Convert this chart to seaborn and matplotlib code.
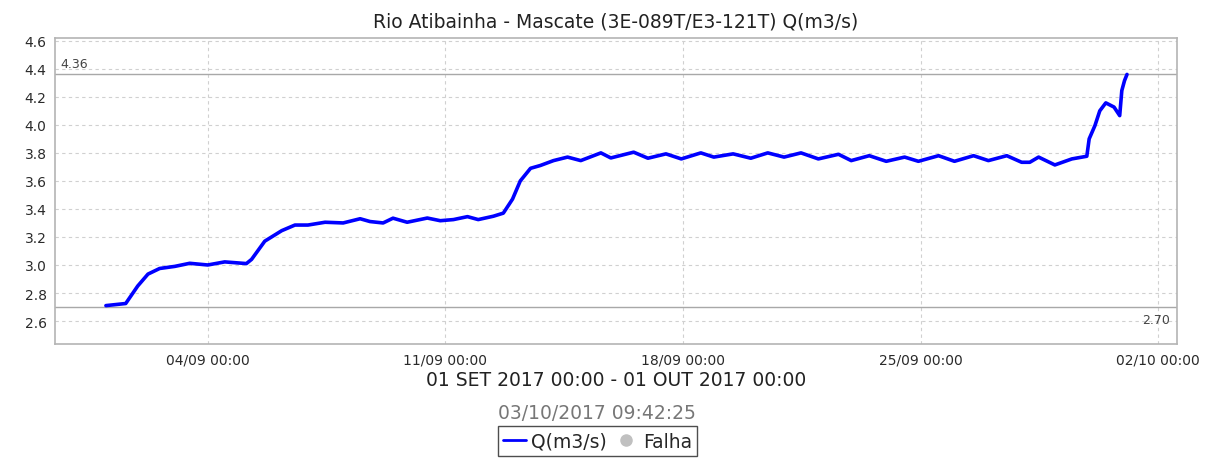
import matplotlib
matplotlib.use("Agg")
import matplotlib.pyplot as plt
import matplotlib.dates as mdates
from matplotlib.lines import Line2D
import pandas as pd
import seaborn as sns

# ---- data ----
times = [
    "2017-09-01 00:00", "2017-09-01 14:00", "2017-09-01 22:30", "2017-09-02 05:45",
    "2017-09-02 14:00", "2017-09-03 00:45", "2017-09-03 11:15", "2017-09-04 00:00",
    "2017-09-04 12:00", "2017-09-05 03:20", "2017-09-05 07:00", "2017-09-05 16:20",
    "2017-09-06 04:20", "2017-09-06 13:40", "2017-09-06 22:50", "2017-09-07 11:00",
    "2017-09-07 23:45", "2017-09-08 11:45", "2017-09-08 18:45", "2017-09-09 04:00",
    "2017-09-09 11:00", "2017-09-09 21:00", "2017-09-10 11:15", "2017-09-10 20:25",
    "2017-09-11 05:45", "2017-09-11 15:40", "2017-09-11 23:15", "2017-09-12 10:00",
    "2017-09-12 17:00", "2017-09-12 23:30", "2017-09-13 05:00", "2017-09-13 12:15",
    "2017-09-13 19:10", "2017-09-14 04:30", "2017-09-14 14:25", "2017-09-14 23:45",
    "2017-09-15 14:00", "2017-09-15 21:00", "2017-09-16 13:10", "2017-09-16 23:15",
    "2017-09-17 12:00", "2017-09-17 22:50", "2017-09-18 12:40", "2017-09-18 21:50",
    "2017-09-19 11:30", "2017-09-20 00:00", "2017-09-20 12:00", "2017-09-20 23:30",
    "2017-09-21 11:30", "2017-09-21 23:45", "2017-09-22 14:00", "2017-09-22 23:00",
    "2017-09-23 11:45", "2017-09-23 23:45", "2017-09-24 12:45", "2017-09-24 22:30",
    "2017-09-25 12:45", "2017-09-26 00:00", "2017-09-26 13:30", "2017-09-27 00:00",
    "2017-09-27 13:00", "2017-09-27 23:30", "2017-09-28 05:15", "2017-09-28 11:30",
    "2017-09-28 23:00", "2017-09-29 11:00", "2017-09-29 21:35", "2017-09-29 23:15",
    "2017-09-30 03:20", "2017-09-30 06:45", "2017-09-30 11:00", "2017-09-30 16:50",
    "2017-09-30 20:50", "2017-09-30 22:20", "2017-10-01 00:15", "2017-10-01 02:00",
]
flow = [
    2.71, 2.725, 2.85, 2.935,
    2.975, 2.99, 3.012, 3.00,
    3.022, 3.01, 3.04, 3.17,
    3.245, 3.285, 3.285, 3.305,
    3.30, 3.33, 3.31, 3.30,
    3.334, 3.305, 3.335, 3.316,
    3.324, 3.345, 3.324, 3.348,
    3.37, 3.47, 3.60, 3.69,
    3.71, 3.745, 3.77, 3.745,
    3.80, 3.764, 3.805, 3.762,
    3.793, 3.757, 3.80, 3.77,
    3.793, 3.762, 3.80, 3.77,
    3.80, 3.757, 3.79, 3.745,
    3.78, 3.74, 3.77, 3.74,
    3.78, 3.74, 3.78, 3.745,
    3.78, 3.733, 3.733, 3.77,
    3.714, 3.757, 3.776, 3.90,
    3.995, 4.10, 4.157, 4.127,
    4.066, 4.245, 4.316, 4.36,
]
max_value = 4.36
min_value = 2.70
tick_dates = ["2017-09-04", "2017-09-11", "2017-09-18", "2017-09-25", "2017-10-02"]
y_ticks = [2.6, 2.8, 3.0, 3.2, 3.4, 3.6, 3.8, 4.0, 4.2, 4.4, 4.6]

title = "Rio Atibainha - Mascate (3E-089T/E3-121T) Q(m3/s)"
period = "01 SET 2017 00:00 - 01 OUT 2017 00:00"
stamp = "03/10/2017 09:42:25"
series_name = "Q(m3/s)"
fail_name = "Falha"

df = pd.DataFrame({"time": pd.to_datetime(times), "value": flow})

# ---- style ----
sns.set_style("white")
plt.rcParams["font.family"] = ["DejaVu Sans"]

fig = plt.figure(figsize=(12.16, 4.6), dpi=100)
ax = fig.add_axes([55 / 1216, 1 - 345 / 460, (1176.5 - 55) / 1216, (345 - 39) / 460])

sns.lineplot(data=df, x="time", y="value", ax=ax, color="#0000ff", linewidth=2.6,
             legend=False, solid_joinstyle="round", solid_capstyle="round")

# reference lines
ax.axhline(max_value, color="#a8a8a8", linewidth=1.0, zorder=1)
ax.axhline(min_value, color="#a8a8a8", linewidth=1.0, zorder=1)
ax.annotate(f"{max_value:.2f}", xy=(0, max_value), xycoords=("axes fraction", "data"),
            xytext=(4, 3), textcoords="offset points", ha="left", va="bottom",
            fontsize=9, color="#444444")
ax.annotate(f"{min_value:.2f}", xy=(1, min_value), xycoords=("axes fraction", "data"),
            xytext=(-5, -4), textcoords="offset points", ha="right", va="top",
            fontsize=9, color="#444444")

# axes limits
x0 = pd.Timestamp("2017-08-30 12:00")
x1 = pd.Timestamp("2017-10-02 13:00")
ax.set_xlim(x0, x1)
ax.set_ylim(2.436, 4.62)

ax.set_xticks(pd.to_datetime(tick_dates))
ax.xaxis.set_major_formatter(mdates.DateFormatter("%d/%m %H:%M"))
ax.set_yticks(y_ticks)
ax.set_yticklabels([f"{v:.1f}" for v in y_ticks])

ax.grid(True, which="major", color="#d0d0d0", linestyle=(0, (3, 3)), linewidth=0.8)
ax.set_axisbelow(True)
for s in ax.spines.values():
    s.set_color("#b4b4b4")
    s.set_linewidth(1.2)
ax.tick_params(axis="both", direction="out", length=3, width=0.8, color="#999999",
               labelsize=10, labelcolor="#2a2a2a", pad=3)

ax.set_xlabel(period, fontsize=13.5, color="#222222", labelpad=3)
ax.set_ylabel("")
ax.set_title(title, fontsize=13.5, color="#222222", pad=8)

fig.text(597 / 1216, 1 - 414 / 460, stamp, ha="center", va="center",
         fontsize=13.5, color="#777777")

handles = [
    Line2D([0], [0], color="#0000ff", linewidth=2),
    Line2D([0], [0], color="none", marker="o", markersize=8,
           markerfacecolor="#c0c0c0", markeredgecolor="#c0c0c0"),
]
leg = fig.legend(handles, [series_name, fail_name], loc="upper center",
                 bbox_to_anchor=(597.5 / 1216, 1 - 427 / 460), ncol=2,
                 fontsize=13.5, frameon=True, fancybox=False, handlelength=1.2,
                 handletextpad=0.3, columnspacing=0.4, borderpad=0.3,
                 borderaxespad=0)
leg.get_frame().set_edgecolor("#222222")
leg.get_frame().set_linewidth(1.0)

fig.savefig("out.png", dpi=100)
